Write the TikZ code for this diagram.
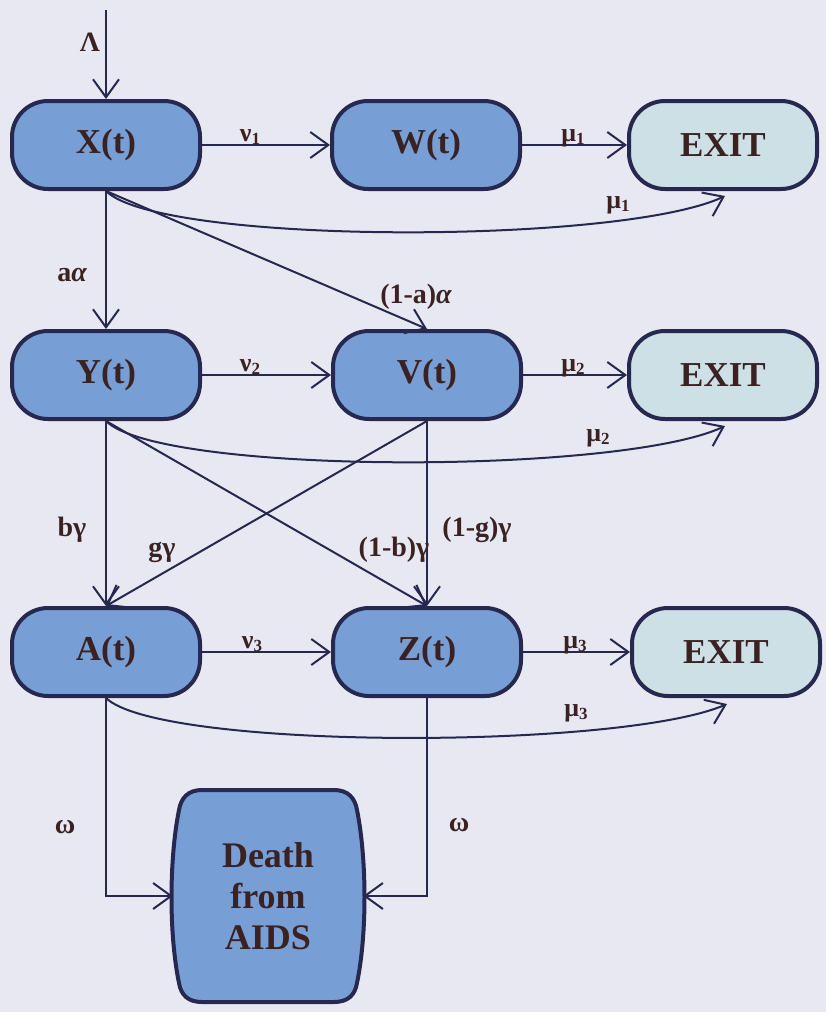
\documentclass[tikz,border=0pt]{standalone}
\usepackage{fontspec}
\setmainfont{Liberation Serif}
\usetikzlibrary{arrows.meta,calc}
\definecolor{bgc}{RGB}{232,232,242}
\definecolor{boxblue}{RGB}{120,158,214}
\definecolor{exitc}{RGB}{205,224,230}
\definecolor{edgec}{RGB}{38,40,80}
\definecolor{txt}{RGB}{58,34,34}
\newcommand\sbs[1]{\raisebox{-0.25ex}{\fontsize{17}{17}\selectfont #1}}
\begin{document}
\begin{tikzpicture}[x=1pt,y=-1pt,
  state/.style={draw=edgec, line width=4pt, fill=boxblue, rounded corners=36pt,
    minimum width=188pt, minimum height=88pt, inner sep=0pt,
    font=\fontsize{35}{40}\selectfont\bfseries, text=txt},
  exitbox/.style={state, fill=exitc},
  conn/.style={draw=edgec, line width=2pt, -{Straight Barb[length=18pt,width=26pt]}},
  lab/.style={font=\fontsize{28}{30}\selectfont\bfseries, text=txt, inner sep=0pt},
  slab/.style={font=\fontsize{26}{28}\selectfont\bfseries, text=txt, inner sep=0pt}]
% background / bounding box
\fill[bgc] (0,0) rectangle (826,1012);
\useasboundingbox (0,0) rectangle (826,1012);

% nodes
\node[state] (X) at (106,145) {X(t)};
\node[state] (W) at (426,145) {W(t)};
\node[exitbox] (E1) at (723,145) {EXIT};
\node[state] (Y) at (106,375) {Y(t)};
\node[state] (V) at (427,375) {V(t)};
\node[exitbox] (E2) at (723,375) {EXIT};
\node[state] (A) at (106,652) {A(t)};
\node[state] (Z) at (427,652) {Z(t)};
\node[exitbox] (E3) at (726,652) {EXIT};

% barrel-shaped death node
\draw[draw=edgec, line width=4pt, fill=boxblue]
  (202,790) -- (334,790) .. controls (348,790) and (355,798) .. (357,810)
  .. controls (367,860) and (367,935) .. (357,983)
  .. controls (355,995) and (348,1002) .. (334,1002) -- (202,1002)
  .. controls (188,1002) and (181,995) .. (179,983)
  .. controls (169,935) and (169,860) .. (179,810)
  .. controls (181,798) and (188,790) .. (202,790) -- cycle;
\node[minimum width=190pt, minimum height=212pt, inner sep=0pt, align=center,
  font=\fontsize{36}{41}\selectfont\bfseries, text=txt] (death) at (268,896) {Death\\from\\AIDS};

\coordinate (src) at (106,10);

% connectors
\draw[conn] (src) -- (X.north);
\draw[conn] (X.east) -- (W.west);
\draw[conn] (W.east) -- (E1.west);
\draw[conn] (X.south) .. controls (160,245) and (620,245) .. ($(E1.south)+(2,5)$);
\draw[conn] (X.south) -- (Y.north);
\draw[conn] (X.south) -- (V.north);

\draw[conn] (Y.east) -- (V.west);
\draw[conn] (V.east) -- (E2.west);
\draw[conn] (Y.south) .. controls (160,475) and (620,475) .. ($(E2.south)+(2,5)$);
\draw[conn] (Y.south) -- (A.north);
\draw[conn] (Y.south) -- (Z.north);
\draw[conn] (V.south) -- (A.north);
\draw[conn] (V.south) -- (Z.north);

\draw[conn] (A.east) -- (Z.west);
\draw[conn] (Z.east) -- (E3.west);
\draw[conn] (A.south) .. controls (160,750) and (620,750) .. ($(E3.south)+(1,6)$);
\draw[conn] (A.south) |- (death.west);
\draw[conn] (Z.south) |- (death.east);

% labels
\node[lab] (lLam) at (90,42) {Λ};
\node[slab] (lnu1) at (250,137) {ν\sbs{1}};
\node[slab] (lmu1) at (573,138) {μ\sbs{1}};
\node[slab] (lmu1c) at (618,205) {μ\sbs{1}};
\node[lab] (laa) at (72,275) {a{\itshape α}};
\node[lab] (l1aa) at (416,297) {(1-a){\itshape α}};
\node[slab] (lnu2) at (250,367) {ν\sbs{2}};
\node[slab] (lmu2) at (573,368) {μ\sbs{2}};
\node[slab] (lmu2c) at (598,438) {μ\sbs{2}};
\node[lab] (lbg) at (72,530) {bγ};
\node[lab] (lgg) at (162,552) {gγ};
\node[lab] (l1bg) at (394,550) {(1-b)γ};
\node[lab] (l1gg) at (477,530) {(1-g)γ};
\node[slab] (lnu3) at (252,644) {ν\sbs{3}};
\node[slab] (lmu3) at (575,645) {μ\sbs{3}};
\node[slab] (lmu3c) at (576,713) {μ\sbs{3}};
\node[lab] (lom1) at (65,827) {ω};
\node[lab] (lom2) at (459,825) {ω};
\end{tikzpicture}
\end{document}
